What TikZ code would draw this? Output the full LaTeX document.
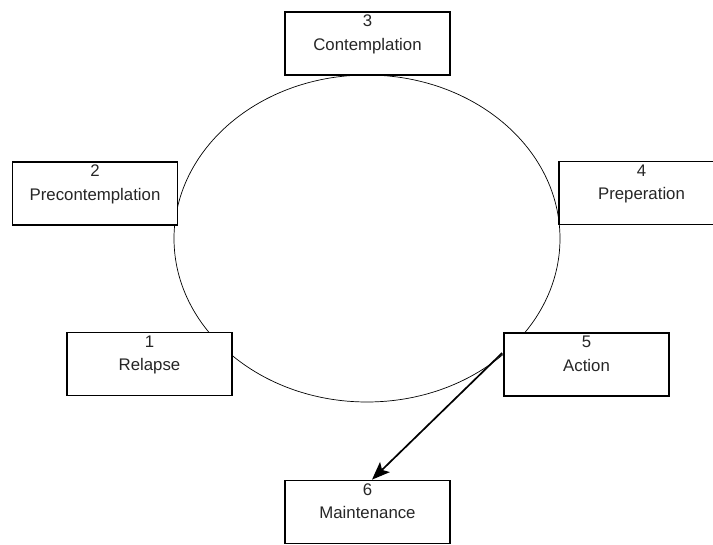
\documentclass[tikz,border=0pt]{standalone}
\usepackage{fontspec}
\setmainfont{Liberation Sans}
\usetikzlibrary{arrows.meta}
\tikzset{
  stagebox/.style={draw=black, fill=white, line width=1.7pt, minimum width=165pt, minimum height=63pt, inner sep=0pt},
  numtext/.style={anchor=base, inner sep=0pt, font=\fontsize{16.8}{20}\selectfont, text=black!85},
  nametext/.style={anchor=base, inner sep=0pt, font=\fontsize{16.8}{20}\selectfont, text=black!85},
  cycle/.style={draw=black, line width=0.7pt},
  progress/.style={draw=black, line width=1.7pt, -{Stealth[length=18pt,width=14pt,inset=4pt]}}
}
\begin{document}
\begin{tikzpicture}[x=1pt,y=-1pt]
\useasboundingbox (0,0) rectangle (713,545);
\clip (0,0) rectangle (713,545);
% cycle
\draw[cycle] (367,238.5) ellipse [x radius=193, y radius=163.5];
% boxes
\node[stagebox] (b3) at (367.5,43.5) {};
\node[stagebox] (b2) at (95,193.5) {};
\node[stagebox] (b4) at (641.5,193) {};
\node[stagebox] (b1) at (149.5,364) {};
\node[stagebox] (b5) at (586.5,364.5) {};
\node[stagebox] (b6) at (367.5,512) {};
% texts
\foreach \b/\n/\t in {b3/3/Contemplation, b2/2/Precontemplation, b4/4/Preperation, b1/1/Relapse, b5/5/Action, b6/6/Maintenance}{
  \node[numtext] (num\b) at ([yshift=-15.5pt]\b.north) {\n};
  \node[nametext] (name\b) at ([yshift=-39pt]\b.north) {\t};
}
% arrow
\coordinate (tip) at ([xshift=4.5pt]b6.north);
\draw[progress] ([yshift=11.5pt,xshift=-1pt]b5.west) -- (tip);
\end{tikzpicture}
\end{document}
